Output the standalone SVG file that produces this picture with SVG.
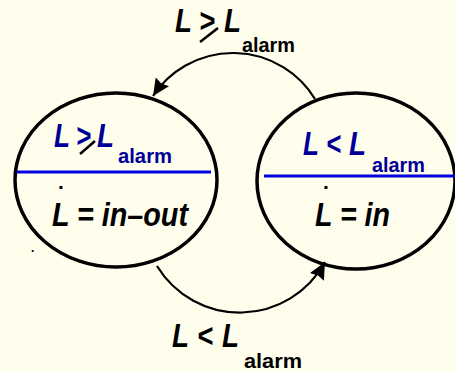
<svg xmlns="http://www.w3.org/2000/svg" width="455" height="372" viewBox="0 0 455 372">
<defs>
<style>
.bg{fill:#FFFDEB}
.node{fill:none;stroke:#000;stroke-width:3.5}
.sep{stroke:#0000E0;stroke-width:3}
.big{font-family:"Liberation Sans",Arial,sans-serif;font-weight:bold;font-style:italic;font-size:33px}
.sub{font-family:"Liberation Sans",Arial,sans-serif;font-weight:bold;font-size:21px}
.blue{fill:#000099}
.blk{fill:#000}
.slash{stroke:#000;stroke-width:2.5}
.conn{fill:none;stroke:#000;stroke-width:2.2}
</style>
<marker id="arr" markerUnits="userSpaceOnUse" markerWidth="20" markerHeight="16" refX="17" refY="8" orient="auto">
<path d="M0,0 L17,8 L0,16 L2,8 z" fill="#000"/>
</marker>
</defs>
<rect class="bg" x="0" y="0" width="455" height="372"/>
<g id="connectors">
<path class="conn" d="M315,99 A96,96 0 0 0 153,96" marker-end="url(#arr)"/>
<path class="conn" d="M157,266 A97,97 0 0 0 325,262" marker-end="url(#arr)"/>
</g>
<g id="label-top">
<text class="big blk" x="175" y="32" textLength="17" lengthAdjust="spacingAndGlyphs">L</text>
<text class="big blk" x="199" y="32" textLength="16" lengthAdjust="spacingAndGlyphs">&gt;</text>
<text class="big blk" x="224" y="32" textLength="17" lengthAdjust="spacingAndGlyphs">L</text>
<line class="slash" x1="200" y1="42" x2="218" y2="28"/>
<text class="sub blk" x="242" y="52" textLength="53" lengthAdjust="spacingAndGlyphs">alarm</text>
</g>
<g id="label-bottom">
<text class="big blk" x="172" y="347" textLength="17" lengthAdjust="spacingAndGlyphs">L</text>
<text class="big blk" x="197" y="347" textLength="16" lengthAdjust="spacingAndGlyphs">&lt;</text>
<text class="big blk" x="222" y="347" textLength="17" lengthAdjust="spacingAndGlyphs">L</text>
<text class="sub blk" x="244" y="368" textLength="58" lengthAdjust="spacingAndGlyphs">alarm</text>
</g>
<g id="node-left">
<ellipse class="node" cx="116" cy="180" rx="101" ry="87"/>
<line class="sep" x1="17" y1="172" x2="211" y2="172"/>
<text class="big blue" x="54" y="147" textLength="16" lengthAdjust="spacingAndGlyphs">L</text>
<text class="big blue" x="76" y="147" textLength="15" lengthAdjust="spacingAndGlyphs">&gt;</text>
<text class="big blue" x="97" y="147" textLength="17" lengthAdjust="spacingAndGlyphs">L</text>
<line class="slash" x1="80" y1="154" x2="95" y2="141"/>
<text class="sub blue" x="118" y="163" textLength="54" lengthAdjust="spacingAndGlyphs">alarm</text>
<text class="sub blk" x="58" y="189">.</text>
<text class="big blk" x="52" y="226" textLength="136" lengthAdjust="spacingAndGlyphs">L = in–out</text>
</g>
<g id="node-right">
<ellipse class="node" cx="356" cy="181" rx="99" ry="88"/>
<line class="sep" x1="264" y1="176" x2="455" y2="176"/>
<text class="big blue" x="303" y="155" textLength="16" lengthAdjust="spacingAndGlyphs">L</text>
<text class="big blue" x="326" y="155" textLength="15" lengthAdjust="spacingAndGlyphs">&lt;</text>
<text class="big blue" x="349" y="155" textLength="17" lengthAdjust="spacingAndGlyphs">L</text>
<text class="sub blue" x="372" y="172" textLength="53" lengthAdjust="spacingAndGlyphs">alarm</text>
<text class="sub blk" x="323" y="189">.</text>
<text class="big blk" x="315" y="226" textLength="75" lengthAdjust="spacingAndGlyphs">L = in</text>
</g>
<text class="sub blk" x="31" y="252" style="font-size:12px">.</text>
</svg>
